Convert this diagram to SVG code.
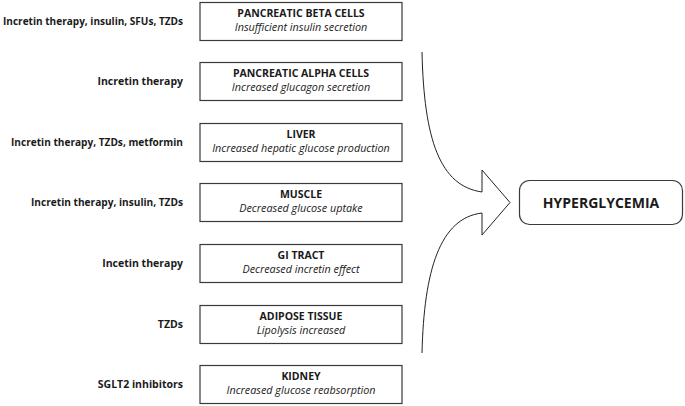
<svg xmlns="http://www.w3.org/2000/svg" width="685" height="406" viewBox="0 0 685 406">
<style>
.box{fill:#fff;stroke:#3a3a3a;stroke-width:1.2}
.t{font-family:"Open Sans","Liberation Sans",sans-serif;font-size:10.5px;font-weight:bold;fill:#1a1a1a;text-anchor:middle}
.s{font-family:"Open Sans","Liberation Sans",sans-serif;font-size:10.8px;font-style:italic;fill:#1a1a1a;text-anchor:middle}
.l{font-family:"Open Sans","Liberation Sans",sans-serif;font-size:10.5px;font-weight:bold;fill:#1a1a1a;text-anchor:end}
.h{font-family:"Open Sans","Liberation Sans",sans-serif;font-size:14px;font-weight:bold;fill:#1a1a1a;text-anchor:middle}
.arrow{fill:none;stroke:#222;stroke-width:1}
</style>
<rect width="685" height="406" fill="#fff"/>
<g id="beta">
<text class="l" x="183" y="25" textLength="180" lengthAdjust="spacingAndGlyphs">Incretin therapy, insulin, SFUs, TZDs</text>
<rect class="box" x="200" y="2.5" width="202" height="38"/>
<text class="t" x="301" y="17">PANCREATIC BETA CELLS</text>
<text class="s" x="301" y="31">Insufficient insulin secretion</text>
</g>
<g id="alpha">
<text class="l" x="183" y="85">Incretin therapy</text>
<rect class="box" x="200" y="62.5" width="202" height="38"/>
<text class="t" x="301" y="77">PANCREATIC ALPHA CELLS</text>
<text class="s" x="301" y="91">Increased glucagon secretion</text>
</g>
<g id="liver">
<text class="l" x="183" y="146" textLength="172" lengthAdjust="spacingAndGlyphs">Incretin therapy, TZDs, metformin</text>
<rect class="box" x="200" y="123.5" width="202" height="38"/>
<text class="t" x="301" y="138">LIVER</text>
<text class="s" x="301" y="152">Increased hepatic glucose production</text>
</g>
<g id="muscle">
<text class="l" x="183" y="206" textLength="152" lengthAdjust="spacingAndGlyphs">Incretin therapy, insulin, TZDs</text>
<rect class="box" x="200" y="183.5" width="202" height="38"/>
<text class="t" x="301" y="198">MUSCLE</text>
<text class="s" x="301" y="212">Decreased glucose uptake</text>
</g>
<g id="gi">
<text class="l" x="183" y="267">Incetin therapy</text>
<rect class="box" x="200" y="244.5" width="202" height="38"/>
<text class="t" x="301" y="259">GI TRACT</text>
<text class="s" x="301" y="273">Decreased incretin effect</text>
</g>
<g id="adipose">
<text class="l" x="183" y="328">TZDs</text>
<rect class="box" x="200" y="305.5" width="202" height="38"/>
<text class="t" x="301" y="320">ADIPOSE TISSUE</text>
<text class="s" x="301" y="334">Lipolysis increased</text>
</g>
<g id="kidney">
<text class="l" x="183" y="388">SGLT2 inhibitors</text>
<rect class="box" x="200" y="365.5" width="202" height="38"/>
<text class="t" x="301" y="380">KIDNEY</text>
<text class="s" x="301" y="394">Increased glucose reabsorption</text>
</g>
<g id="connectors">
<path class="arrow" d="M422,52 C424,140 440,186 482,192 L482,170 L510,202.5 L482,235 L482,213 C440,218 424,270 422,353"/>
</g>
<g id="hyperglycemia">
<rect class="box" x="519.5" y="180.5" width="163" height="44" rx="10"/>
<text class="h" x="601" y="207.5">HYPERGLYCEMIA</text>
</g>
</svg>
